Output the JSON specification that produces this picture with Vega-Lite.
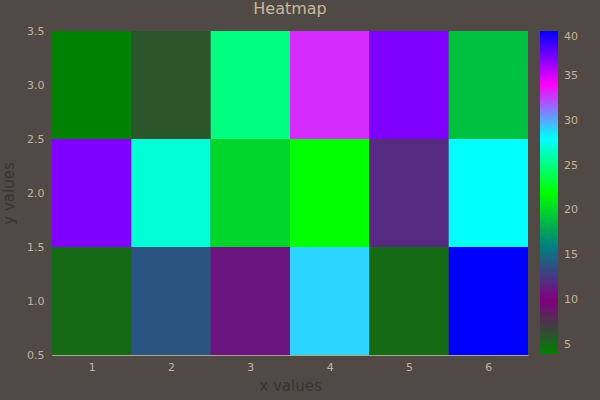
{
  "$schema": "https://vega.github.io/schema/vega-lite/v6.json",
  "width": 476,
  "height": 324,
  "autosize": {"type": "none"},
  "padding": {"left": 52, "top": 31, "right": 72, "bottom": 45},
  "background": "#514945",
  "title": {"text": "Heatmap", "fontSize": 16, "font": "DejaVu Sans", "fontWeight": "normal", "color": "#c4b99c", "anchor": "middle", "offset": 8},
  "data": {"values": [
    {"x": 1, "y": 3, "z": 4}, {"x": 2, "y": 3, "z": 6}, {"x": 3, "y": 3, "z": 25}, {"x": 4, "y": 3, "z": 33}, {"x": 5, "y": 3, "z": 37}, {"x": 6, "y": 3, "z": 19},
    {"x": 1, "y": 2, "z": 37}, {"x": 2, "y": 2, "z": 27}, {"x": 3, "y": 2, "z": 20}, {"x": 4, "y": 2, "z": 22}, {"x": 5, "y": 2, "z": 12}, {"x": 6, "y": 2, "z": 28},
    {"x": 1, "y": 1, "z": 5}, {"x": 2, "y": 1, "z": 14}, {"x": 3, "y": 1, "z": 11}, {"x": 4, "y": 1, "z": 29}, {"x": 5, "y": 1, "z": 5}, {"x": 6, "y": 1, "z": 40}
  ]},
  "transform": [
    {"calculate": "datum.x - 0.5", "as": "x0"},
    {"calculate": "datum.x + 0.5", "as": "x1"},
    {"calculate": "datum.y - 0.5", "as": "y0"},
    {"calculate": "datum.y + 0.5", "as": "y1"}
  ],
  "mark": {"type": "rect", "strokeWidth": 0},
  "encoding": {
    "x": {"field": "x0", "type": "quantitative", "scale": {"domain": [0.5, 6.5], "nice": false, "zero": false},
      "axis": {"title": "x values", "values": [1, 2, 3, 4, 5, 6], "grid": false, "ticks": false, "labelPadding": 6, "labelFontSize": 11, "labelFont": "DejaVu Sans", "labelColor": "#c0b59a", "titleFont": "DejaVu Sans", "titleFontSize": 15, "titleFontWeight": "normal", "titleColor": "#3a3430", "titlePadding": 6, "domainColor": "#b0a588", "domainWidth": 1}},
    "x2": {"field": "x1"},
    "y": {"field": "y0", "type": "quantitative", "scale": {"domain": [0.5, 3.5], "nice": false, "zero": false},
      "axis": {"title": "y values", "values": [0.5, 1, 1.5, 2, 2.5, 3, 3.5], "format": ".1f", "grid": false, "ticks": false, "labelPadding": 8, "labelFontSize": 11, "labelFont": "DejaVu Sans", "labelColor": "#c0b59a", "titleFont": "DejaVu Sans", "titleFontSize": 15, "titleFontWeight": "normal", "titleColor": "#3a3430", "titlePadding": 10, "domainColor": "#b0a588", "domainWidth": 1}},
    "y2": {"field": "y1"},
    "color": {"field": "z", "type": "quantitative",
      "scale": {"domain": [4, 10, 16, 22, 28, 34, 40], "range": ["#008000", "#800080", "#008080", "#00ff00", "#00ffff", "#ff00ff", "#0000ff"], "interpolate": "rgb"},
      "legend": {"title": null, "orient": "right", "offset": 12, "padding": 0, "gradientLength": 323, "gradientThickness": 18, "gradientStrokeWidth": 0, "values": [5, 10, 15, 20, 25, 30, 35, 40], "labelFontSize": 11, "labelFont": "DejaVu Sans", "labelColor": "#c0b59a", "labelOffset": 6}}
  },
  "config": {"view": {"stroke": null}}
}
